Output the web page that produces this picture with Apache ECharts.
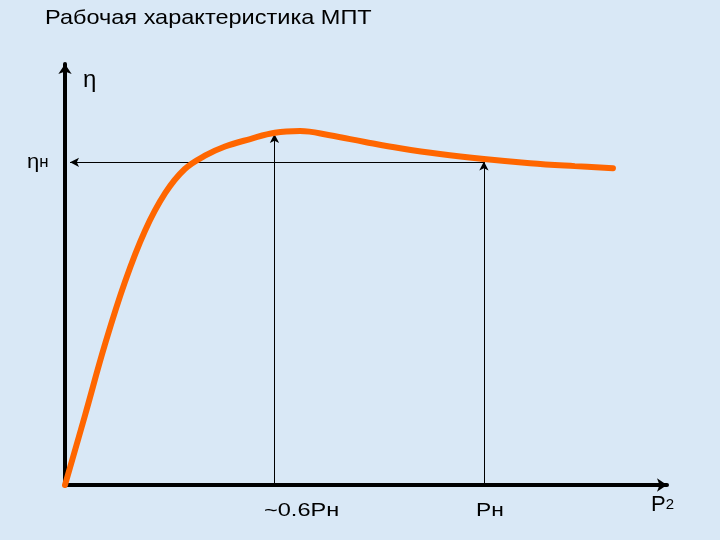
<!DOCTYPE html>
<html>
<head>
<meta charset="utf-8">
<script src="https://cdn.jsdelivr.net/npm/echarts@6/dist/echarts.min.js"></script>
<style>
html,body{margin:0;padding:0;background:#d9e8f6;}
#main{width:720px;height:540px;}
</style>
</head>
<body>
<div id="main"></div>
<script>
// Load P2 expressed in units of rated power Pн
const pValues = [0, 0.048, 0.095, 0.143, 0.191, 0.239, 0.286, 0.334, 0.382, 0.442, 0.501, 0.561, 0.632, 0.716, 0.800, 0.895, 1.0, 1.110, 1.217, 1.308];
// Efficiency η (relative units)
const etaValues = [0, 16.8, 33.6, 48.7, 61.0, 70.0, 75.8, 79.0, 81.2, 83.0, 84.5, 84.9, 83.9, 82.3, 80.8, 79.4, 78.2, 77.2, 76.5, 76.0];
// Reference marks
const pPeak = 0.5;        // ~0.6Pн
const etaPeak = 84.2;
const pNom = 1.0;         // Pн
const etaNomTip = 77.6;
const etaNom = 77.4;      // ηн
const arrowEndX = 0.012;
const xMax = 1.437;
const yMax = 101;

const curve = pValues.map((p, i) => [p, etaValues[i]]);

const chart = echarts.init(document.getElementById('main'));
const FF = '"Liberation Sans", Arial, sans-serif';
function txt(x, y, text, rich, sx) {
  return {type: 'text', x: x, y: y, scaleX: sx || 1, silent: true,
    style: {text: text, rich: rich, verticalAlign: 'top', align: 'left'}};
}
chart.setOption({
  animation: false,
  backgroundColor: '#d9e8f6',
  grid: {left: 65, right: 53, top: 64, bottom: 55},
  xAxis: {
    type: 'value', min: 0, max: xMax,
    axisLine: {show: true, onZero: true, symbol: ['none', 'arrow'], symbolSize: [10, 10],
      lineStyle: {color: '#000', width: 4}},
    axisTick: {show: false}, axisLabel: {show: false}, splitLine: {show: false}
  },
  yAxis: {
    type: 'value', min: 0, max: yMax,
    axisLine: {show: true, onZero: true, symbol: ['none', 'arrow'], symbolSize: [10, 10],
      lineStyle: {color: '#000', width: 4}},
    axisTick: {show: false}, axisLabel: {show: false}, splitLine: {show: false}
  },
  series: [
    {
      type: 'line', data: [], silent: true,
      markLine: {
        silent: true, symbol: ['none', 'arrow'], symbolSize: [7, 9],
        label: {show: false},
        lineStyle: {color: '#000', width: 1, type: 'solid'},
        data: [
          [{coord: [pPeak, 0]}, {coord: [pPeak, etaPeak]}],
          [{coord: [pNom, 0]}, {coord: [pNom, etaNomTip]}],
          [{coord: [pNom, etaNom]}, {coord: [arrowEndX, etaNom]}]
        ]
      }
    },
    {
      type: 'line', data: curve, smooth: 0.4, showSymbol: false, silent: true,
      lineStyle: {color: '#ff6600', width: 6, cap: 'round'},
      z: 5
    }
  ],
  graphic: [
    txt(45, 8, '{a|Рабочая характеристика МПТ}', {a: {fontFamily: FF, fontSize: 21, color: '#000'}}, 1.12),
    txt(83, 68, '{a|η}', {a: {fontFamily: FF, fontSize: 24, color: '#000'}}),
    txt(27, 152, '{a|η}{b|н}', {a: {fontFamily: FF, fontSize: 21, color: '#000'}, b: {fontFamily: FF, fontSize: 16, color: '#000'}}, 1.05),
    txt(264, 501, '{a|~0.6Pн}', {a: {fontFamily: FF, fontSize: 19, color: '#000'}}, 1.24),
    txt(476, 501, '{a|Pн}', {a: {fontFamily: FF, fontSize: 19, color: '#000'}}, 1.2),
    txt(651, 494, '{a|P}{b|2}', {a: {fontFamily: FF, fontSize: 22, color: '#000'}, b: {fontFamily: FF, fontSize: 15, color: '#000'}})
  ]
});
</script>
</body>
</html>
